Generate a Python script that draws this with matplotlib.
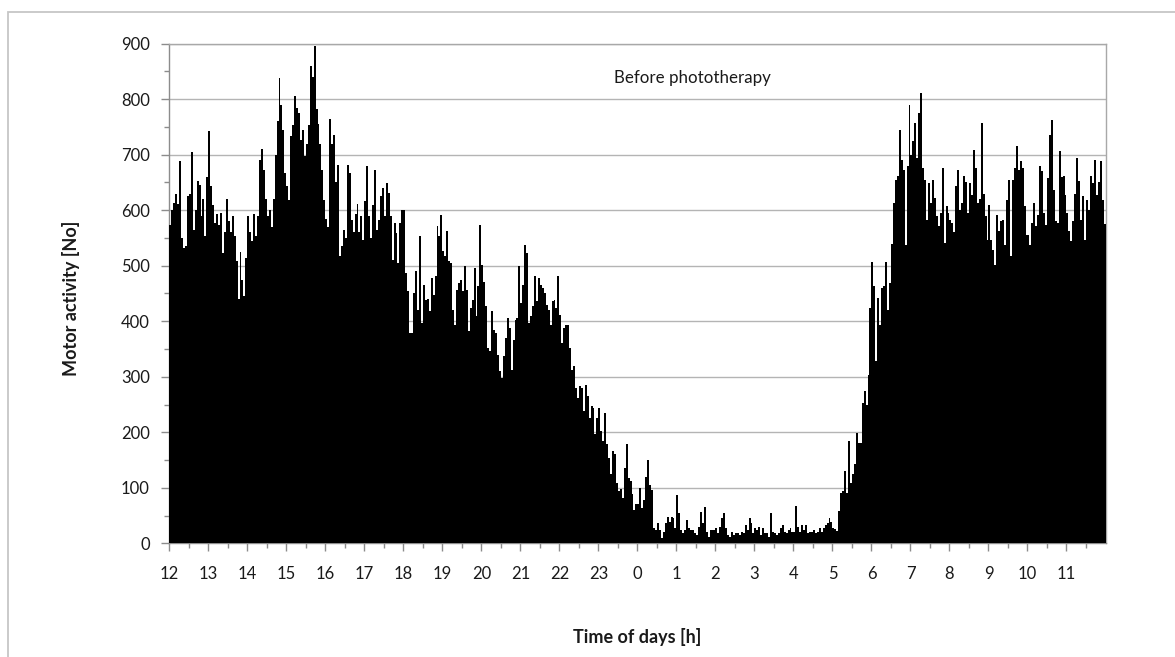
import numpy as np
import matplotlib
matplotlib.use("Agg")
import matplotlib.pyplot as plt
from matplotlib.patches import Rectangle
from matplotlib.ticker import MultipleLocator, FixedLocator

plt.rcParams['font.family'] = ['Lato', 'DejaVu Sans']

# Motor activity, 3-minute bins (20 per hour), starting at 12:00
act_12_16 = [574,600,613,630,611,688,550,532,535,625,630,705,565,600,652,645,590,620,553,660,
             743,643,610,577,594,574,595,523,560,620,580,560,590,553,508,440,525,475,445,514,
             590,560,544,594,553,590,690,710,673,620,590,600,570,620,700,760,838,790,745,667,
             643,619,734,754,805,784,775,727,745,697,720,754,859,840,896,783,756,720,672,619]
act_16_20 = [585,570,765,720,735,650,681,517,535,565,550,681,667,583,560,594,612,560,590,547,
             616,679,590,550,610,673,565,583,625,640,589,649,631,589,510,577,559,505,577,600,
             601,487,454,379,379,451,490,421,553,397,466,439,440,418,478,448,481,571,553,592,
             526,517,562,508,505,421,394,457,469,475,454,499,457,382,424,439,496,409,463,574]
act_20_24 = [502,470,427,352,346,418,385,379,340,310,298,337,370,406,388,313,367,403,406,499,
             433,466,538,523,397,410,427,481,436,478,466,460,451,430,421,394,436,439,424,481,
             412,361,388,394,394,352,313,319,280,262,283,280,238,286,265,226,247,244,196,226,
             244,202,184,235,178,154,124,166,160,109,94,97,82,136,178,118,112,88,60,70]
act_0_4 = [70,100,63,78,120,150,105,96,27,24,36,24,9,21,36,48,39,48,45,27,
           87,54,24,18,24,42,27,24,24,18,15,30,57,36,66,21,12,24,24,24,
           27,18,30,45,54,27,15,12,21,15,18,18,15,21,18,33,24,45,36,18,
           27,24,30,15,27,18,18,12,54,21,18,15,18,27,33,21,18,24,27,21]
act_4_8 = [21,67,30,21,33,24,33,18,21,21,24,18,21,27,21,27,33,36,45,39,
           27,25,22,58,90,94,130,91,184,109,124,142,199,181,181,253,274,250,304,424,
           506,463,328,442,394,460,463,506,421,469,540,613,655,661,745,691,673,538,679,790,
           700,724,757,694,775,812,676,655,583,649,613,655,622,589,571,595,676,541,607,595]
act_8_12 = [583,577,560,643,673,601,613,661,650,595,649,628,709,676,613,620,757,630,589,547,
            610,547,529,502,592,562,580,583,538,619,655,517,655,676,715,673,688,676,607,556,
            556,538,577,613,571,592,679,670,595,574,658,736,763,637,580,577,706,660,661,628,
            595,562,544,580,630,694,652,583,625,547,619,600,661,649,691,628,650,688,619,575]

hour_labels = ['12','13','14','15','16','17','18','19','20','21','22','23',
               '0','1','2','3','4','5','6','7','8','9','10','11']

values = np.array(act_12_16 + act_16_20 + act_20_24 + act_0_4 + act_4_8 + act_8_12)
bins_per_hour = 20
x = np.arange(len(values)) / bins_per_hour

fig = plt.figure(figsize=(11.75, 6.57), dpi=100)
ax = fig.add_axes([169.3/1175, 1-543.3/657, (1105.5-169.3)/1175, (543.3-43.7)/657])

# outer chart border (extends past the right and bottom edges)
fig.patches.append(Rectangle((8/1175, -0.05), 1.1, 1-12/657+0.05, transform=fig.transFigure,
                             fill=False, edgecolor='#c6c6c6', linewidth=1.3, clip_on=False))

ax.bar(x, values, width=1/bins_per_hour, align='edge', color='black',
       linewidth=0, antialiased=False, zorder=3)

ax.set_xlim(0, 24)
ax.set_ylim(0, 900)
ax.yaxis.set_major_locator(MultipleLocator(100))
ax.yaxis.set_minor_locator(MultipleLocator(50))
ax.xaxis.set_major_locator(FixedLocator(np.arange(24)))
ax.xaxis.set_minor_locator(FixedLocator(np.arange(24) + 0.5))
ax.set_xticklabels(hour_labels)

ax.grid(axis='y', which='major', color='#b4b4b4', linewidth=1.0, zorder=0)
ax.set_axisbelow(True)
for s in ax.spines.values():
    s.set_color('#a8a8a8')
    s.set_linewidth(1.0)
ax.spines['left'].set_color('#8c8c8c')
ax.spines['bottom'].set_color('#8c8c8c')

ax.tick_params(axis='both', which='major', length=6, width=1, color='#8c8c8c',
               labelsize=12, labelcolor='#1a1a1a')
ax.tick_params(axis='both', which='minor', length=3.5, width=1, color='#8c8c8c')
ax.tick_params(axis='x', which='major', pad=10)
ax.tick_params(axis='y', which='major', pad=8)

ax.set_xlabel('Time of days [h]', fontsize=13, fontweight='bold', color='#1a1a1a')
ax.xaxis.set_label_coords(0.5, (543.3-628)/499.6)
ax.set_ylabel('Motor activity [No]', fontsize=13, fontweight='bold', color='#1a1a1a', va='center')
ax.yaxis.set_label_coords((71-169.3)/936.2, 0.49)

ax.text(692/1175, 1-78/657, 'Before phototherapy', transform=fig.transFigure,
        ha='center', va='center', fontsize=12.2, color='#1a1a1a')

fig.savefig('out.png', dpi=100)
